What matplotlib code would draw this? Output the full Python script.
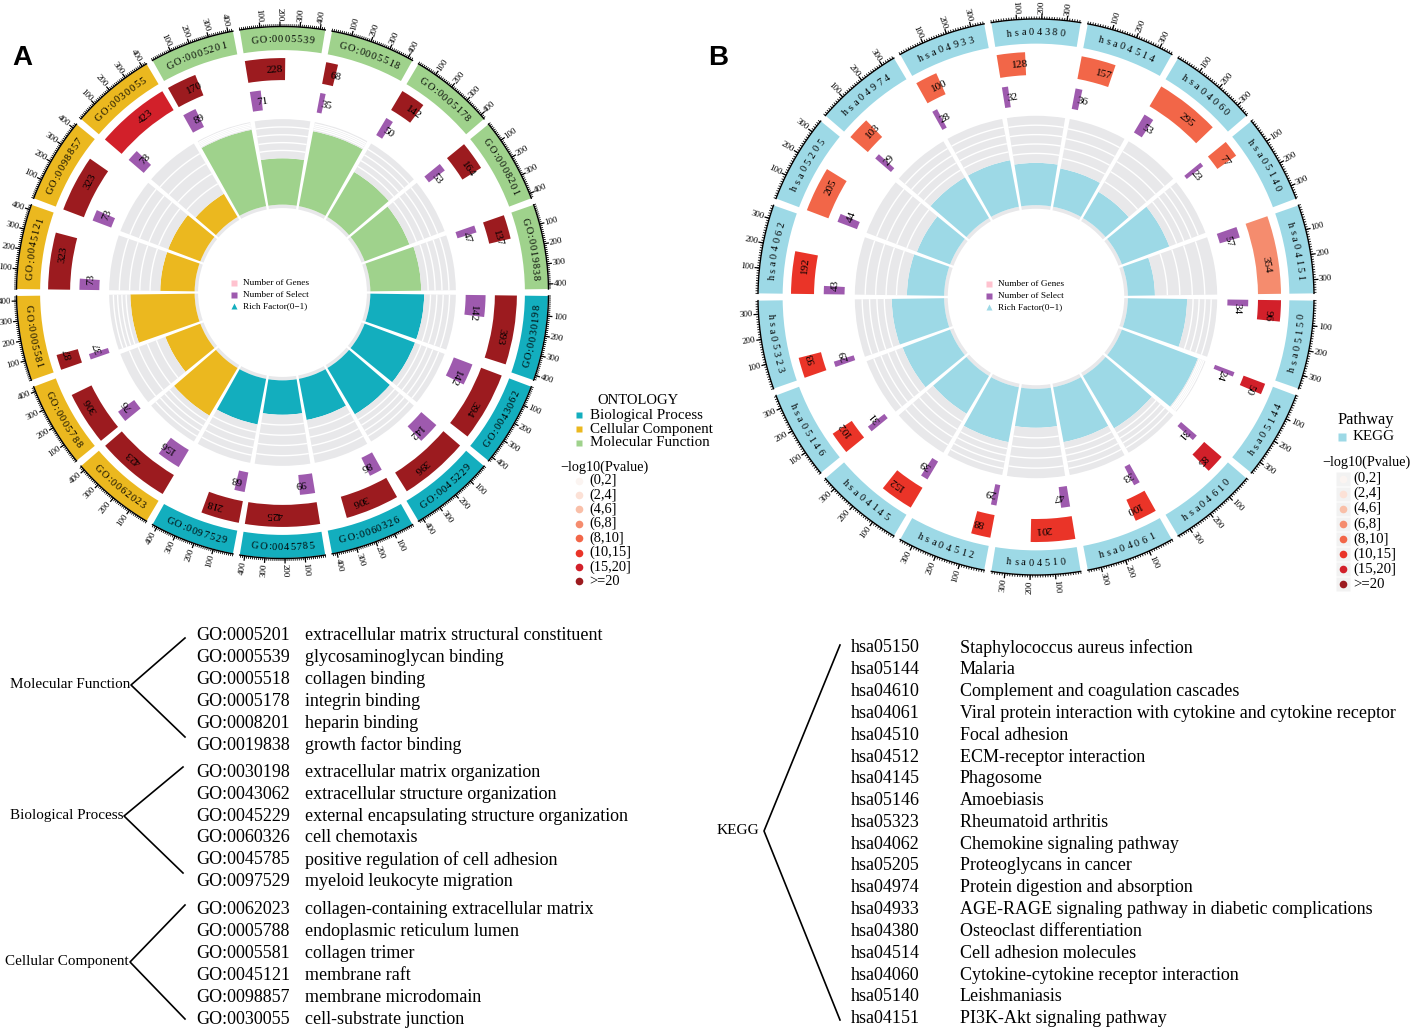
import numpy as np
import matplotlib.pyplot as plt
from matplotlib.font_manager import FontProperties
from matplotlib.textpath import TextToPath

W, H = 1417, 1029
SERIF = 'Liberation Serif'

# ---------------- data ----------------
go_ids = ['GO:0005201', 'GO:0005539', 'GO:0005518', 'GO:0005178', 'GO:0008201', 'GO:0019838',
          'GO:0030198', 'GO:0043062', 'GO:0045229', 'GO:0060326', 'GO:0045785', 'GO:0097529',
          'GO:0062023', 'GO:0005788', 'GO:0005581', 'GO:0045121', 'GO:0098857', 'GO:0030055']
go_names = ['extracellular matrix structural constituent', 'glycosaminoglycan binding',
            'collagen binding', 'integrin binding', 'heparin binding', 'growth factor binding',
            'extracellular matrix organization', 'extracellular structure organization',
            'external encapsulating structure organization', 'cell chemotaxis',
            'positive regulation of cell adhesion', 'myeloid leukocyte migration',
            'collagen-containing extracellular matrix', 'endoplasmic reticulum lumen',
            'collagen trimer', 'membrane raft', 'membrane microdomain', 'cell-substrate junction']
go_onto = ['Molecular Function'] * 6 + ['Biological Process'] * 6 + ['Cellular Component'] * 6
go_genes = [170, 228, 68, 142, 164, 137, 393, 394, 396, 306, 425, 218, 423, 306, 87, 323, 323, 423]
go_select = [89, 71, 35, 50, 53, 47, 142, 142, 142, 86, 99, 68, 156, 76, 37, 73, 73, 78]
go_rich = [0.52, 0.31, 0.51, 0.35, 0.32, 0.34, 0.36, 0.36, 0.36, 0.28, 0.23, 0.31,
           0.37, 0.25, 0.43, 0.23, 0.23, 0.18]
go_pbin = [7] * 17 + [6]

kegg_ids = ['hsa05150', 'hsa05144', 'hsa04610', 'hsa04061', 'hsa04510', 'hsa04512',
            'hsa04145', 'hsa05146', 'hsa05323', 'hsa04062', 'hsa05205', 'hsa04974',
            'hsa04933', 'hsa04380', 'hsa04514', 'hsa04060', 'hsa05140', 'hsa04151']
kegg_names = ['Staphylococcus aureus infection', 'Malaria', 'Complement and coagulation cascades',
              'Viral protein interaction with cytokine and cytokine receptor', 'Focal adhesion',
              'ECM-receptor interaction', 'Phagosome', 'Amoebiasis', 'Rheumatoid arthritis',
              'Chemokine signaling pathway', 'Proteoglycans in cancer',
              'Protein digestion and absorption',
              'AGE-RAGE signaling pathway in diabetic complications', 'Osteoclast differentiation',
              'Cell adhesion molecules', 'Cytokine-cytokine receptor interaction', 'Leishmaniasis',
              'PI3K-Akt signaling pathway']
kegg_genes = [96, 50, 85, 100, 201, 88, 152, 102, 93, 192, 205, 103, 100, 128, 157, 295, 77, 354]
kegg_select = [34, 24, 31, 33, 47, 29, 39, 31, 29, 43, 44, 29, 28, 32, 36, 53, 23, 57]
kegg_rich = [0.35, 0.48, 0.36, 0.33, 0.23, 0.33, 0.26, 0.30, 0.31, 0.22, 0.21, 0.28,
             0.28, 0.25, 0.23, 0.18, 0.30, 0.16]
kegg_pbin = [6, 6, 6, 5, 5, 5, 5, 5, 5, 5, 4, 4, 4, 4, 4, 4, 4, 3]

pbin_labels = ['(0,2]', '(2,4]', '(4,6]', '(6,8]', '(8,10]', '(10,15]', '(15,20]', '>=20']
pbin_colors = ['#FBF4F1', '#FCE1D6', '#F9BFA8', '#F58C6E', '#F26648', '#EA3428', '#D2202A', '#9C1B1F']

onto_order = ['Biological Process', 'Cellular Component', 'Molecular Function']
onto_colors = {'Biological Process': '#13AEBE', 'Cellular Component': '#EBB81F',
               'Molecular Function': '#9FD28C'}
KEGG_COL = '#9DD9E6'
PURPLE = '#9E5AAE'
PINK = '#FFC2CF'
GREY = '#E8E8EA'

fig = plt.figure(figsize=(W / 100, H / 100), dpi=100)
ttp = TextToPath()


def polar_axes(cx, cy, R):
    rm = R + 32
    ax = fig.add_axes([(cx - rm) / W, (H - cy - rm) / H, 2 * rm / W, 2 * rm / H],
                      projection='polar')
    ax.set_theta_zero_location('E')
    ax.set_theta_direction(-1)
    ax.set_ylim(0, rm)
    ax.set_axis_off()
    return ax


def circle(ax, ids, genes, select, rich, pbin, cols, R, xmax, track):
    n = len(ids)
    step = 360.0 / n
    gap = 1.5
    span = step - gap
    start = np.arange(n) * step + gap / 2
    genes = np.asarray(genes, float)
    select = np.asarray(select, float)
    rich = np.asarray(rich, float)
    rad = np.radians

    # outer category ring
    ax.bar(rad(start), 0.087 * R, width=rad(span), bottom=0.913 * R, align='edge',
           color=cols, lw=0)
    # number of genes
    ax.bar(rad(start), 0.083 * R, width=rad(span * genes / xmax), bottom=0.80 * R,
           align='edge', color=[pbin_colors[b] for b in pbin], lw=0)
    # number of select
    ax.bar(rad(start), 0.075 * R, width=rad(span * select / xmax), bottom=0.69 * R,
           align='edge', color=PURPLE, lw=0)

    # rich factor track
    r_in, pad, r_out = 0.318 * R, 0.013 * R, 0.653 * R
    base = r_in + pad
    top = base + rich / (1.1 * rich.max()) * (r_out - base)
    ax.bar(rad(start), pad, width=rad(span), bottom=r_in, align='edge', color=GREY, lw=0)
    ax.bar(rad(start), top - base, width=rad(span), bottom=base, align='edge',
           color=cols, lw=0)
    ax.bar(rad(start), r_out - top, width=rad(span), bottom=top, align='edge',
           color=GREY, lw=0)
    for i in range(n):
        th = rad(np.linspace(start[i], start[i] + span, 60))
        for k in range(1, 5):
            rk = top[i] + k * (r_out - top[i]) / 5
            ax.plot(th, np.full_like(th, rk), color='white', lw=1.0, solid_capstyle='butt')

    # value labels
    for i in range(n):
        for val, r0, h, fs in ((genes[i], 0.80 * R, 0.083 * R, 8.0),
                               (select[i], 0.69 * R, 0.075 * R, 8.0)):
            fpx = fs * 100 / 72
            t = start[i] + 0.5 * span * val / xmax
            ax.text(rad(t), r0 + h / 2 - 0.34 * fpx, str(int(val)), rotation=-t - 90,
                    rotation_mode='anchor', ha='left', va='baseline', fontsize=fs,
                    family=SERIF)

    # axis with ticks
    for i in range(n):
        th = rad(np.linspace(start[i], start[i] + span, 80))
        ax.plot(th, np.full_like(th, R + 0.5), color='black', lw=1.0)
        minor = np.arange(0, xmax + 0.1, 10)
        ax.vlines(rad(start[i] + minor / xmax * span), R + 0.5, R + 3, color='black', lw=0.6)
        major = np.arange(100, xmax + 0.1, 100)
        tmaj = start[i] + major / xmax * span
        ax.vlines(rad(tmaj), R + 0.5, R + 5.5, color='black', lw=0.9)
        for v, t in zip(major, tmaj):
            phi = -t
            if np.cos(np.radians(phi)) >= 0:
                rot, ha = phi, 'left'
            else:
                rot, ha = phi + 180, 'right'
            ax.text(rad(t), R + 6, str(int(v)), rotation=rot, rotation_mode='anchor',
                    ha=ha, va='center', fontsize=6.4, family=SERIF)

    # curved sector labels
    fs = 7.5
    prop = FontProperties(family=SERIF, size=fs)
    fpx = fs * 100 / 72
    r_mid = 0.9565 * R
    for i in range(n):
        s = ids[i]
        w = [0.0] + [ttp.get_text_width_height_descent(s[:k], prop, ismath=False)[0] * 100 / 72
                     for k in range(1, len(s) + 1)]
        centers = np.array([(w[k] + w[k + 1]) / 2 + k * track for k in range(len(s))])
        off = centers - (w[-1] + (len(s) - 1) * track) / 2
        th_mid = start[i] + span / 2
        top_half = 0 < (-th_mid) % 360 < 180
        for ch, o in zip(s, off):
            d = np.degrees(o / r_mid)
            if top_half:
                t = th_mid + d
                rot, rb = -t - 90, r_mid - 0.33 * fpx
            else:
                t = th_mid - d
                rot, rb = -t + 90, r_mid + 0.33 * fpx
            ax.text(rad(t), rb, ch, rotation=rot, rotation_mode='anchor', ha='center',
                    va='baseline', fontsize=fs, family=SERIF)


# ---------------- panel A ----------------
order = [i for o in onto_order for i in range(len(go_ids)) if go_onto[i] == o]
axA = polar_axes(282.5, 292.5, 265.5)
circle(axA, [go_ids[i] for i in order], [go_genes[i] for i in order],
       [go_select[i] for i in order], [go_rich[i] for i in order],
       [go_pbin[i] for i in order], [onto_colors[go_onto[i]] for i in order],
       265.5, max(go_genes), 1.0)

# ---------------- panel B ----------------
axB = polar_axes(1036, 297, 277.5)
circle(axB, kegg_ids, kegg_genes, kegg_select, kegg_rich, kegg_pbin,
       [KEGG_COL] * len(kegg_ids), 277.5, max(kegg_genes), 2.7)

# ---------------- overlay: legends and text ----------------
ov = fig.add_axes([0, 0, 1, 1])
ov.set_xlim(0, W)
ov.set_ylim(H, 0)
ov.set_axis_off()

ov.text(22, 58, 'A', fontsize=20, fontweight='bold', family='Liberation Sans',
        ha='center', va='center')
ov.text(718, 58, 'B', fontsize=20, fontweight='bold', family='Liberation Sans',
        ha='center', va='center')

# centre legends
for x0, y0, tri in ((233.5, 283, onto_colors['Biological Process']), (988.5, 284, KEGG_COL)):
    items = [('s', PINK, 'Number of Genes'), ('s', PURPLE, 'Number of Select'),
             ('^', tri, 'Rich Factor(0\u22121)')]
    for k, (m, c, lab) in enumerate(items):
        y = y0 + 11.7 * k
        ov.plot(x0, y, marker=m, ms=5, color=c, mec='none')
        ov.text(x0 + 9.5, y, lab, fontsize=6.7, family=SERIF, va='center')

# right legend A
ov.text(597, 400, 'ONTOLOGY', fontsize=10.5, family=SERIF, va='center')
for k, o in enumerate(onto_order):
    y = 415 + 14 * k
    ov.plot(579, y, marker='s', ms=5, color=onto_colors[o], mec='none')
    ov.text(590, y, o, fontsize=10.8, family=SERIF, va='center')
ov.text(560, 467, '\u2212log10(Pvalue)', fontsize=10.2, family=SERIF, va='center')
for k, lab in enumerate(pbin_labels):
    y = 480.5 + 14.4 * k
    ov.plot(579, y, marker='o', ms=5.5, color=pbin_colors[k], mec='none')
    ov.text(589, y, lab, fontsize=10.4, family=SERIF, va='center')

# right legend B
ov.text(1338, 420, 'Pathway', fontsize=11.8, family=SERIF, va='center')
ov.plot(1342, 437, marker='s', ms=6, color=KEGG_COL, mec='none')
ov.text(1353, 437, 'KEGG', fontsize=10.9, family=SERIF, va='center')
ov.text(1322, 462, '\u2212log10(Pvalue)', fontsize=10.2, family=SERIF, va='center')
for k, lab in enumerate(pbin_labels):
    y = 478.5 + 15.1 * k
    ov.plot(1343, y, marker='s', ms=10, color='#F2F2F2', mec='none')
    ov.plot(1343, y, marker='o', ms=5.5, color=pbin_colors[k], mec='none')
    ov.text(1353, y, lab, fontsize=10.6, family=SERIF, va='center')

# bottom tree A
groups = [('Molecular Function', 10, 685, 636, (131, 685), (185, 638), (185, 737)),
          ('Biological Process', 10, 816, 772.5, (124, 816), (183, 767), (183, 873)),
          ('Cellular Component', 5, 962, 910, (130, 962), (185, 905), (185, 1019))]
for name, gx, gy, y0, v, p1, p2 in groups:
    ov.text(gx, gy, name, fontsize=10.9, family=SERIF, va='center')
    ov.plot([p1[0], v[0], p2[0]], [p1[1], v[1], p2[1]], color='black', lw=1.2)
    rows = [i for i in range(len(go_ids)) if go_onto[i] == name]
    for k, i in enumerate(rows):
        y = y0 + 21.8 * k
        ov.text(196, y, go_ids[i], fontsize=13.0, family=SERIF, va='center')
        ov.text(305, y, go_names[i], fontsize=13.0, family=SERIF, va='center')

# bottom tree B
ov.text(717, 831, 'KEGG', fontsize=11.1, family=SERIF, va='center')
ov.plot([840, 764, 840], [645, 831, 1020], color='black', lw=1.2)
for k in range(len(kegg_ids)):
    y = 648 + 21.8 * k
    ov.text(851, y, kegg_ids[k], fontsize=13.0, family=SERIF, va='center')
    ov.text(960, y, kegg_names[k], fontsize=13.0, family=SERIF, va='center')

fig.savefig('out.png', dpi=100)
